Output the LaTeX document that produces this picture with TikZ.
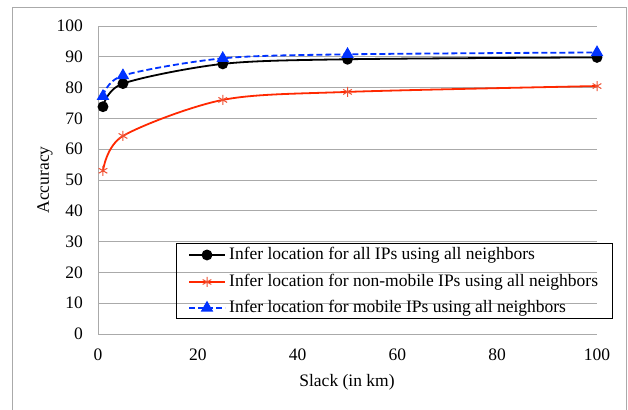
\documentclass[tikz,border=0pt]{standalone}
\usepackage{fontspec}
\setmainfont{Liberation Serif}
\usetikzlibrary{plotmarks}

\definecolor{gridgray}{RGB}{170,170,170}
\definecolor{linered}{RGB}{255,40,0}
\definecolor{markred}{RGB}{240,80,50}
\definecolor{lineblue}{RGB}{0,50,255}

\begin{document}
\begin{tikzpicture}
	[x=1pt,y=1pt,font=\fontsize{17.5}{20}\selectfont,
	 grid/.style={draw=gridgray,line width=0.8pt},
	 allips/.style={black,line width=1.8pt,mark=*,mark size=4.5pt},
	 nonmobile/.style={linered,line width=1.8pt,mark=asterisk,mark size=5pt,mark options={markred,line width=1pt}},
	 mobile/.style={lineblue,line width=1.8pt,dash pattern=on 6pt off 3pt,mark=triangle*,mark size=5.5pt,mark options={solid}},
	 ticklabel/.style={inner sep=0pt}]
	\useasboundingbox (0,0) rectangle (628,409);
	\clip (0,0) rectangle (628,409);
	\draw[draw=gridgray,line width=0.8pt,fill=white] (12,-10) rectangle (626,402);

	% plot area, data coordinates
	\begin{scope}[shift={(98pt,75pt)},x=4.99pt,y=3.08pt]
		\foreach \v in {0,10,...,100}{
			\draw[grid] (0,\v) -- (100,\v);
			\node[ticklabel,anchor=east] (ylab\v) at (-3,\v) {\v};
		}
		\draw[grid] (0,0) -- (0,100);
		\foreach \u in {0,20,...,100}
			\node[ticklabel] (xlab\u) at (\u,-6.8) {\u};

		\draw[allips] plot[smooth,tension=0.5] coordinates {(1,73.8) (5,81.3) (25,87.7) (50,89.2) (100,89.8)};
		\draw[nonmobile] plot[smooth,tension=0.5] coordinates {(1,53) (5,64.3) (25,76) (50,78.6) (100,80.5)};
		\draw[mobile] plot[smooth,tension=0.5] coordinates {(1,77.2) (5,83.9) (25,89.5) (50,90.8) (100,91.4)};
	\end{scope}

	\node[ticklabel,rotate=90] (ytitle) at (45,229) {Accuracy};
	\node[ticklabel] (xtitle) at (347,27) {Slack (in km)};

	% legend
	\node[draw,line width=0.8pt,minimum width=436pt,minimum height=75pt,anchor=north west,inner sep=0pt] (legend) at (176,166) {};
	\foreach \s/\y/\t in {allips/154/{Infer location for all IPs using all neighbors},
		nonmobile/127/{Infer location for non-mobile IPs using all neighbors},
		mobile/101/{Infer location for mobile IPs using all neighbors}}{
		\draw[\s,mark phase=2,mark repeat=3] plot coordinates {(189,\y) (207,\y) (225,\y)};
		\node[ticklabel,anchor=west] (leg\s) at (229,\y) {\t};
	}
\end{tikzpicture}
\end{document}
